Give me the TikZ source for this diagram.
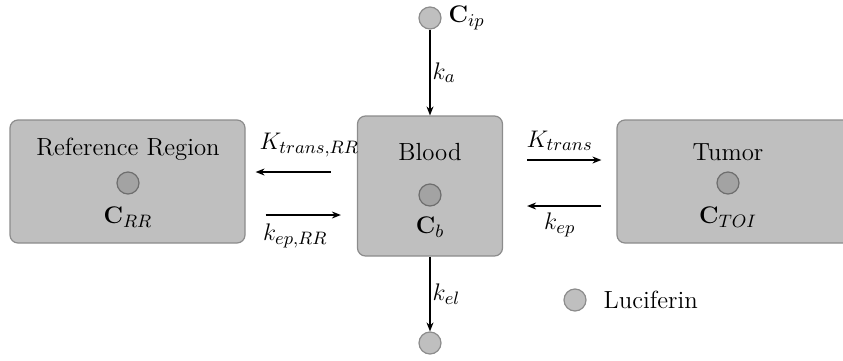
\documentclass[tikz,border=0pt]{standalone}
\usetikzlibrary{positioning,arrows.meta}
\usepackage{xcolor}
\definecolor{boxgray}{HTML}{BFBFBF}
\definecolor{boxline}{HTML}{8C8C8C}
\definecolor{dotgray}{HTML}{A3A3A3}
\definecolor{dotline}{HTML}{6E6E6E}

\begin{document}
\begin{tikzpicture}[x=0.5pt, y=-0.5pt,
    every node/.style={font=\fontsize{12.4}{15}\selectfont},
    compartment/.style={draw=boxline, fill=boxgray, rounded corners=4pt, line width=0.6pt},
    molecule/.style={circle, draw=boxline, fill=boxgray, minimum size=11pt, inner sep=0pt, line width=0.6pt},
    inner molecule/.style={molecule, draw=dotline, fill=dotgray},
    flow/.style={-{Stealth[length=4.5pt,width=3.5pt]}, line width=0.6pt}]
    \useasboundingbox (0,0) rectangle (843,360);
    % compartments
    \node[compartment, minimum width=117.5pt, minimum height=61.5pt] (ref) at (127.5,181.5) {};
    \node[compartment, minimum width=72.5pt, minimum height=70pt] (blood) at (430,186) {};
    \node[compartment, minimum width=119pt, minimum height=61.5pt] (tumor) at (736,181.5) {};
    \node (reflabel) at (128,149) {Reference Region};
    \node[inner molecule] (refdot) at (128,183) {};
    \node (refconc) at (128,217) {$\mathbf{C}_{RR}$};
    \node (bloodlabel) at (430,152) {Blood};
    \node[inner molecule] (blooddot) at (430,195) {};
    \node (bloodconc) at (430,227) {$\mathbf{C}_{b}$};
    \node (tumorlabel) at (728,152) {Tumor};
    \node[inner molecule] (tumordot) at (728,183) {};
    \node (tumorconc) at (728,217) {$\mathbf{C}_{TOI}$};
    % input / output
    \node[molecule] (ip) at (430,18) {};
    \node[right=0pt of ip] (iplabel) {$\mathbf{C}_{ip}$};
    \node[molecule] (out) at (430,343) {};
    \node[molecule] (legend) at (575,300) {};
    \node[right=5pt of legend] (legendlabel) {Luciferin};
    % rates
    \draw[flow] (ip) -- node[anchor=west, inner sep=1pt] {$k_a$} (blood);
    \draw[flow] (blood) -- node[anchor=west, inner sep=1pt] {$k_{el}$} (out);
    \draw[flow, shorten <=13pt, shorten >=5pt] ([yshift=7pt]blood.west) -- ([yshift=7pt]blood.west -| ref.east)
        node[midway, above=4pt, xshift=4pt] {$K_{trans,RR}$};
    \draw[flow, shorten <=10pt, shorten >=8pt] ([yshift=-14.5pt]blood.west -| ref.east) -- ([yshift=-14.5pt]blood.west)
        node[midway, below=1pt, xshift=-3pt] {$k_{ep,RR}$};
    \draw[flow, shorten <=12pt, shorten >=7.5pt] ([yshift=13pt]blood.east) -- ([yshift=13pt]blood.east -| tumor.west)
        node[midway, above=1pt] {$K_{trans}$};
    \draw[flow, shorten <=7.5pt, shorten >=12pt] ([yshift=-10pt]blood.east -| tumor.west) -- ([yshift=-10pt]blood.east)
        node[midway, below=0pt] {$k_{ep}$};
\end{tikzpicture}
\end{document}
